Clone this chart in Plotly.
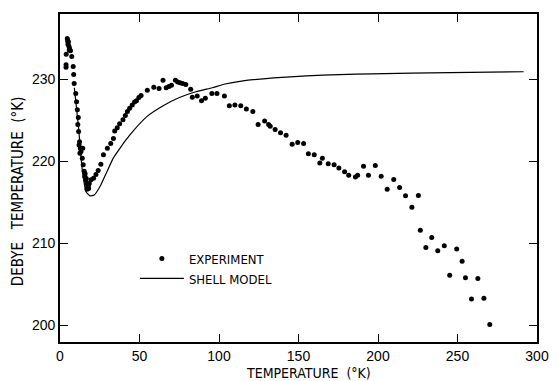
import plotly.graph_objects as go

# Experimental Debye temperature (T in K, theta in K)
exp_T = [3.8, 3.8, 3.9, 4.6, 4.8, 5.0, 5.3, 5.6, 5.8, 6.0, 6.6, 7.4, 8.3, 8.6, 8.9, 9.9,
         10.4, 10.9, 11.2, 11.5, 11.7, 12.0, 12.3, 12.5, 12.8, 13.2, 14.0, 14.3, 14.6, 15.2,
         15.6, 15.8, 16.2, 16.5, 16.8, 17.0, 17.4, 17.8, 18.0, 18.4, 19.5, 21.1, 22.6, 24.0,
         25.7, 27.3, 29.8, 31.9, 33.6, 34.4, 36.0, 37.5, 39.6, 41.1, 42.4, 43.8, 45.4, 46.9,
         48.1, 49.6, 51.0, 54.9, 59.0, 62.3, 64.8, 66.8, 68.5, 70.1, 72.6, 74.0, 75.5, 77.1,
         79.1, 82.2, 83.2, 86.3, 89.0, 91.4, 95.5, 98.7, 103.4, 106.5, 110.0, 113.7, 117.2,
         121.3, 124.6, 128.7, 131.2, 132.2, 135.3, 138.7, 142.2, 146.0, 149.5, 153.2, 156.2,
         159.9, 163.4, 165.0, 168.7, 172.4, 175.4, 179.0, 181.6, 185.8, 187.2, 190.9, 194.0,
         198.3, 202.0, 205.8, 209.9, 213.6, 217.3, 221.3, 225.4, 226.6, 230.1, 233.8, 237.6,
         241.7, 245.1, 249.5, 252.9, 255.0, 258.8, 262.8, 266.6, 270.3]
exp_theta = [231.8, 231.5, 233.1, 235.0, 234.7, 234.3, 234.6, 234.05, 233.6, 233.8, 233.5, 232.8,
             231.6, 230.6, 229.5, 228.3, 227.3, 226.3, 224.5, 225.35, 223.65, 222.0, 222.4, 221.0,
             221.6, 221.2, 220.4, 221.6, 219.6, 218.8, 218.15, 218.5, 217.75, 217.9, 217.3, 216.6,
             216.9, 217.0, 216.7, 217.3, 217.75, 217.95, 218.4, 218.9, 219.65, 220.8, 221.6, 222.2,
             222.8, 223.7, 224.1, 224.6, 225.1, 225.6, 226.1, 226.5, 226.9, 227.25, 227.4, 227.8,
             228.05, 228.7, 229.05, 228.9, 229.9, 229.0, 229.15, 229.3, 229.9, 229.7, 229.6, 229.5,
             229.4, 228.8, 227.85, 228.0, 227.4, 227.7, 228.3, 228.3, 228.0, 226.8, 226.9, 226.8,
             226.4, 226.1, 224.5, 224.95, 224.5, 224.3, 223.9, 223.5, 223.2, 222.1, 222.3, 222.2,
             220.95, 220.8, 219.8, 220.4, 219.7, 219.6, 219.2, 218.75, 218.3, 218.1, 218.3, 219.4,
             218.3, 219.5, 218.2, 216.6, 217.8, 216.8, 215.8, 214.4, 215.85, 211.6, 209.5, 210.7,
             209.1, 209.7, 206.1, 209.3, 207.8, 205.8, 203.2, 205.7, 203.3, 200.1]

# Shell model curve
model_T = [9.0, 11.5, 12.8, 14.1, 16.4, 18.9, 21.5, 25.6, 29.5, 33.5, 37.7, 41.6, 45.7, 54.8,
           64.9, 75.1, 85.5, 95.7, 103.8, 114.1, 134.5, 155.0, 175.6, 196.0, 245.4, 291.6]
model_theta = [229.0, 224.5, 221.5, 218.8, 216.3, 215.8, 215.9, 217.1, 218.75, 220.4, 221.6,
               222.65, 223.65, 225.5, 226.8, 227.8, 228.5, 229.0, 229.45, 229.8, 230.2, 230.45,
               230.6, 230.7, 230.85, 230.95]

x_ticks = [0, 50, 100, 150, 200, 250, 300]
y_ticks = [200, 210, 220, 230]

narrow = "DejaVu Sans Condensed, Liberation Sans Narrow, DejaVu Sans, sans-serif"
tickfont = dict(family="Liberation Sans, Arial, sans-serif", size=14, color="black")

fig = go.Figure()
fig.add_trace(go.Scatter(x=exp_T, y=exp_theta, mode="markers", name="EXPERIMENT",
                         marker=dict(color="black", size=5, line=dict(width=0))))
fig.add_trace(go.Scatter(x=model_T, y=model_theta, mode="lines", name="SHELL MODEL",
                         line=dict(color="black", width=1.2, shape="spline", smoothing=0.5)))

axis_common = dict(showline=True, linecolor="black", linewidth=1.6, mirror="ticks",
                   ticks="inside", ticklen=8, tickwidth=1.4, tickcolor="black",
                   showgrid=False, zeroline=False, tickfont=tickfont)

fig.update_layout(
    width=559, height=381,
    margin=dict(l=60, r=10, t=14, b=39),
    paper_bgcolor="white", plot_bgcolor="white",
    xaxis=dict(range=[0, 300], tickvals=x_ticks, ticktext=[str(v) for v in x_ticks], **axis_common),
    yaxis=dict(range=[197.95, 238], tickvals=y_ticks, ticktext=[str(v) for v in y_ticks], **axis_common),
    showlegend=True,
    legend=dict(x=0.157, y=0.30, xanchor="left", yanchor="top", bgcolor="rgba(0,0,0,0)",
                itemwidth=44,
                font=dict(family=narrow, size=13, color="black"), tracegroupgap=0),
    annotations=[
        dict(text="TEMPERATURE\u00a0\u00a0(°K)", xref="paper", yref="paper", x=0.52, y=-0.093,
             xanchor="center", yanchor="middle", showarrow=False,
             font=dict(family=narrow, size=14, color="black")),
        dict(text="DEBYE\u00a0\u00a0\u00a0TEMPERATURE\u00a0\u00a0(°K)", xref="paper", yref="paper",
             x=-0.088, y=0.46, xanchor="center", yanchor="middle", textangle=-90, showarrow=False,
             font=dict(family=narrow, size=15, color="black")),
    ],
)

fig.write_html("out.html")
